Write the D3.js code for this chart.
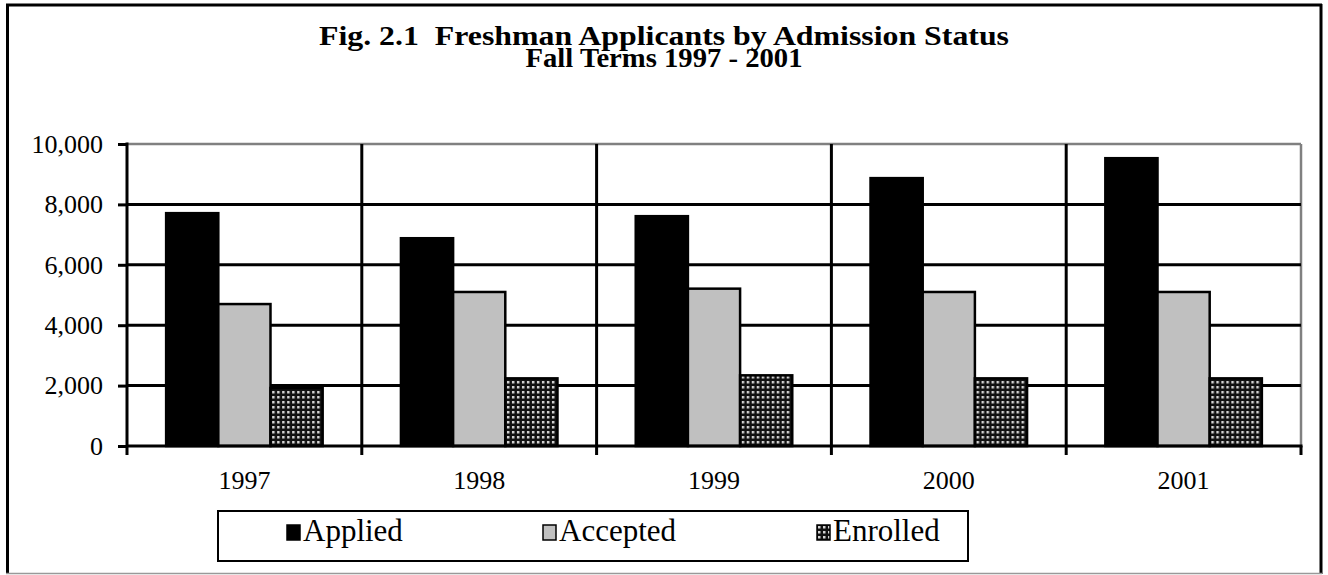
<!DOCTYPE html>
<html>
<head>
<meta charset="utf-8">
<script src="https://cdn.jsdelivr.net/npm/d3@7"></script>
<style>
  html, body { margin: 0; padding: 0; background: #fff; }
  svg { display: block; }
  text { font-family: "Liberation Serif", "Times New Roman", serif; fill: #000; }
</style>
</head>
<body>
<svg id="chart" width="1328" height="575"></svg>
<script>
const years = ["1997", "1998", "1999", "2000", "2001"];
const seriesNames = ["Applied", "Accepted", "Enrolled"];
const applied = [7710, 6880, 7610, 8870, 9530];
const accepted = [4700, 5100, 5210, 5100, 5100];
const enrolled = [1920, 2240, 2340, 2240, 2240];
const yTicks = [0, 2000, 4000, 6000, 8000, 10000];
const titleLines = ["Fig. 2.1  Freshman Applicants by Admission Status", "Fall Terms 1997 - 2001"];

const seriesValues = [applied, accepted, enrolled];
const fills = ["#000000", "#c0c0c0", "url(#dots)"];

const plot = { left: 127, right: 1301, top: 144, bottom: 446 };

const svg = d3.select("#chart");

// pattern for Enrolled
const defs = svg.append("defs");
const pat = defs.append("pattern")
  .attr("id", "dots").attr("patternUnits", "userSpaceOnUse")
  .attr("width", 5).attr("height", 5);
pat.append("rect").attr("width", 5).attr("height", 5).attr("fill", "#111");
pat.append("rect").attr("x", 1).attr("y", 1).attr("width", 2.5).attr("height", 2.5).attr("fill", "#d4d4d4");

// outer border
svg.append("line").attr("x1", 7.5).attr("x2", 7.5).attr("y1", 4).attr("y2", 574).attr("stroke", "#000").attr("stroke-width", 3);
svg.append("line").attr("x1", 6).attr("x2", 1322).attr("y1", 5).attr("y2", 5).attr("stroke", "#000").attr("stroke-width", 3);
svg.append("line").attr("x1", 1321).attr("x2", 1321).attr("y1", 4).attr("y2", 574).attr("stroke", "#000").attr("stroke-width", 3);
svg.append("line").attr("x1", 6).attr("x2", 1322).attr("y1", 573.5).attr("y2", 573.5).attr("stroke", "#999").attr("stroke-width", 1.5);

// title
const titleWidths = [690, 277];
svg.append("g").selectAll("text").data(titleLines).join("text")
  .attr("x", 664).attr("y", (d, i) => 45 + i * 22)
  .attr("text-anchor", "middle")
  .attr("font-weight", "bold")
  .attr("font-size", 28)
  .attr("textLength", (d, i) => titleWidths[i])
  .attr("lengthAdjust", "spacingAndGlyphs")
  .style("white-space", "pre")
  .text(d => d);

// scales
const x0 = d3.scaleBand().domain(years).range([plot.left, plot.right]).paddingInner(0).paddingOuter(0);
const barW = x0.bandwidth() / (3 + 1.5);
const x1 = d3.scaleBand().domain(seriesNames).range([0, barW * 3]);
const y = d3.scaleLinear().domain([0, 10000]).range([plot.bottom, plot.top]);

// plot border top/right gray
svg.append("line").attr("x1", plot.left).attr("x2", plot.right).attr("y1", plot.top).attr("y2", plot.top)
  .attr("stroke", "#808080").attr("stroke-width", 2.5);
svg.append("line").attr("x1", plot.right).attr("x2", plot.right).attr("y1", plot.top).attr("y2", plot.bottom)
  .attr("stroke", "#808080").attr("stroke-width", 2.5);

// horizontal gridlines
svg.append("g").selectAll("line").data(yTicks.filter(t => t > 0 && t < 10000)).join("line")
  .attr("x1", plot.left).attr("x2", plot.right)
  .attr("y1", d => y(d)).attr("y2", d => y(d))
  .attr("stroke", "#000").attr("stroke-width", 3);

// vertical category gridlines (boundaries)
const boundaries = years.slice(1).map(yr => x0(yr));
svg.append("g").selectAll("line").data(boundaries).join("line")
  .attr("x1", d => d).attr("x2", d => d)
  .attr("y1", plot.top).attr("y2", plot.bottom + 9)
  .attr("stroke", "#000").attr("stroke-width", 3);

// bars
const groups = svg.append("g").selectAll("g").data(years).join("g")
  .attr("transform", d => `translate(${x0(d) + barW * 0.75},0)`);
groups.selectAll("rect").data((d, i) => seriesNames.map((s, k) => ({ s, v: seriesValues[k][i], k })))
  .join("rect")
  .attr("x", d => x1(d.s))
  .attr("width", x1.bandwidth())
  .attr("y", d => y(d.v))
  .attr("height", d => y(0) - y(d.v))
  .attr("fill", d => fills[d.k])
  .attr("stroke", "#000").attr("stroke-width", 2.5);

// y axis
const yAxis = d3.axisLeft(y).tickValues(yTicks).tickSize(9).tickPadding(15)
  .tickFormat(d3.format(","));
const gy = svg.append("g").attr("transform", `translate(${plot.left},0)`).call(yAxis);
gy.select(".domain").remove();
gy.selectAll(".tick line").attr("stroke", "#000").attr("stroke-width", 3);
gy.selectAll(".tick text").attr("font-size", 26).attr("font-family", "'Liberation Serif', serif").attr("fill", "#000");
svg.append("line").attr("x1", plot.left).attr("x2", plot.left).attr("y1", plot.top - 1.5).attr("y2", plot.bottom + 9)
  .attr("stroke", "#000").attr("stroke-width", 3);

// x axis baseline + ticks
svg.append("line").attr("x1", plot.left).attr("x2", plot.right + 1.5).attr("y1", plot.bottom).attr("y2", plot.bottom)
  .attr("stroke", "#000").attr("stroke-width", 3);
svg.append("line").attr("x1", plot.right).attr("x2", plot.right).attr("y1", plot.bottom).attr("y2", plot.bottom + 9)
  .attr("stroke", "#000").attr("stroke-width", 3);
const xAxis = d3.axisBottom(x0).tickSize(0).tickPadding(0);
const gx = svg.append("g").attr("transform", `translate(0,${plot.bottom})`).call(xAxis);
gx.select(".domain").remove();
gx.selectAll(".tick text").attr("font-size", 26).attr("font-family", "'Liberation Serif', serif")
  .attr("fill", "#000").attr("dy", null).attr("y", 43);

// legend
const lg = svg.append("g");
lg.append("rect").attr("x", 218).attr("y", 511).attr("width", 750).attr("height", 50)
  .attr("fill", "#fff").attr("stroke", "#000").attr("stroke-width", 2);
const legendX = [287, 543, 817];
const items = lg.selectAll("g.item").data(seriesNames).join("g").attr("class", "item")
  .attr("transform", (d, i) => `translate(${legendX[i]},0)`);
items.append("rect").attr("x", 0).attr("y", 525).attr("width", 13).attr("height", 15)
  .attr("fill", (d, i) => fills[i]).attr("stroke", "#000").attr("stroke-width", 1.5);
items.append("text").attr("x", 16).attr("y", 541).attr("font-size", 31).text(d => d);
</script>
</body>
</html>
